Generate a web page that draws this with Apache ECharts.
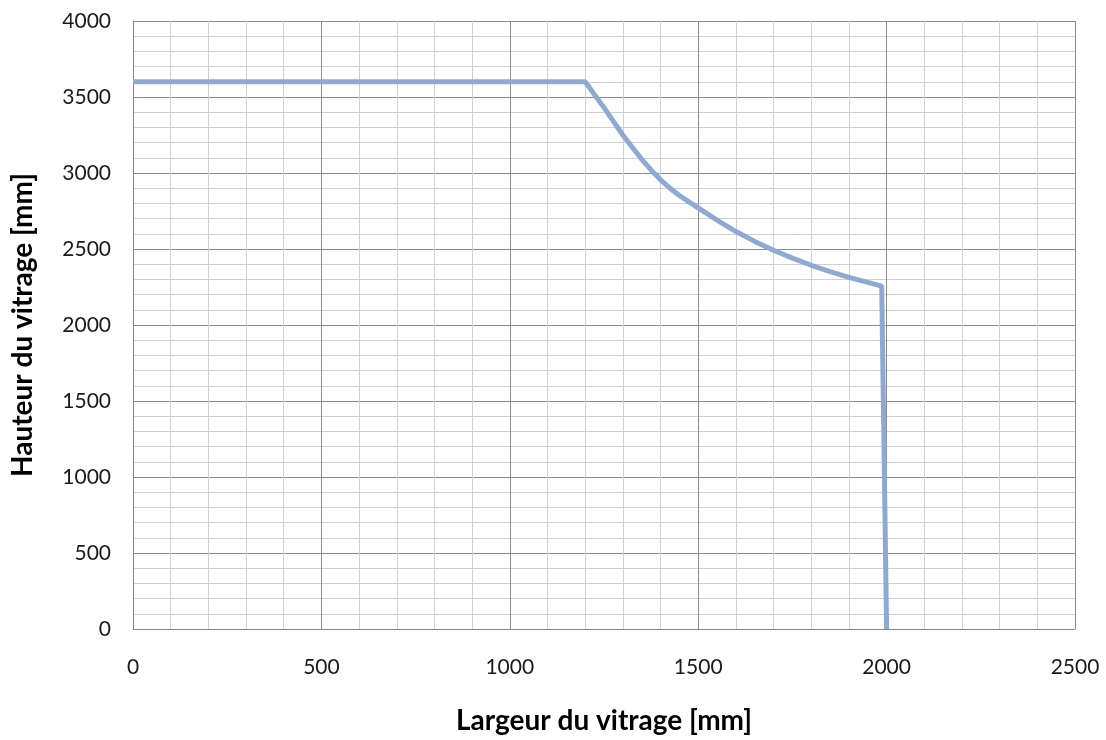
<!DOCTYPE html>
<html>
<head>
<meta charset="utf-8">
<script src="https://cdn.jsdelivr.net/npm/echarts@6/dist/echarts.min.js"></script>
<style>
  html, body { margin: 0; padding: 0; background: #fff; }
  #chart { width: 1106px; height: 740px; }
</style>
</head>
<body>
<div id="chart"></div>
<script>
// largeur / hauteur
const largeur = [0, 1200, 1225, 1250, 1275, 1300, 1325, 1350, 1375, 1400, 1425, 1450, 1500, 1550, 1600, 1650, 1700, 1750, 1800, 1850, 1900, 1950, 1987, 2000];
const hauteur = [3600, 3600, 3515, 3430, 3340, 3250, 3170, 3090, 3020, 2955, 2900, 2852, 2770, 2690, 2615, 2550, 2492, 2440, 2393, 2351, 2313, 2280, 2256, 0];

const font = 'Lato, "Open Sans", sans-serif';

const chart = echarts.init(document.getElementById('chart'));
chart.setOption({
  animation: false,
  grid: { left: 133, right: 31, top: 21, bottom: 111, outerBoundsMode: 'none' },
  xAxis: {
    type: 'value',
    min: 0,
    max: 2500,
    interval: 500,
    name: 'Largeur du vitrage [mm]',
    nameLocation: 'middle',
    nameGap: 78,
    nameTextStyle: { fontFamily: font, fontSize: 28, fontWeight: 'bold', color: '#000' },
    axisLine: { show: true, lineStyle: { color: '#868686', width: 1 } },
    axisTick: { show: false },
    axisLabel: { fontFamily: font, fontSize: 21, color: '#1a1a1a', margin: 28, formatter: v => String(v) },
    splitLine: { show: true, lineStyle: { color: '#8c8c8c', width: 1 } },
    minorTick: { show: false, splitNumber: 5 },
    minorSplitLine: { show: true, lineStyle: { color: '#d0d0d0', width: 1 } }
  },
  yAxis: {
    type: 'value',
    min: 0,
    max: 4000,
    interval: 500,
    name: 'Hauteur du vitrage [mm]',
    nameLocation: 'middle',
    nameGap: 96,
    nameTextStyle: { fontFamily: font, fontSize: 28, fontWeight: 'bold', color: '#000' },
    axisLine: { show: true, lineStyle: { color: '#868686', width: 1 } },
    axisTick: { show: false },
    axisLabel: { fontFamily: font, fontSize: 21, color: '#1a1a1a', margin: 22, formatter: v => String(v) },
    splitLine: { show: true, lineStyle: { color: '#8c8c8c', width: 1 } },
    minorTick: { show: false, splitNumber: 5 },
    minorSplitLine: { show: true, lineStyle: { color: '#d0d0d0', width: 1 } }
  },
  series: [{
    type: 'line',
    data: largeur.map((x, i) => [x, hauteur[i]]),
    showSymbol: false,
    lineStyle: { color: '#8eaad2', width: 5 },
    clip: false
  }]
});
</script>
</body>
</html>
